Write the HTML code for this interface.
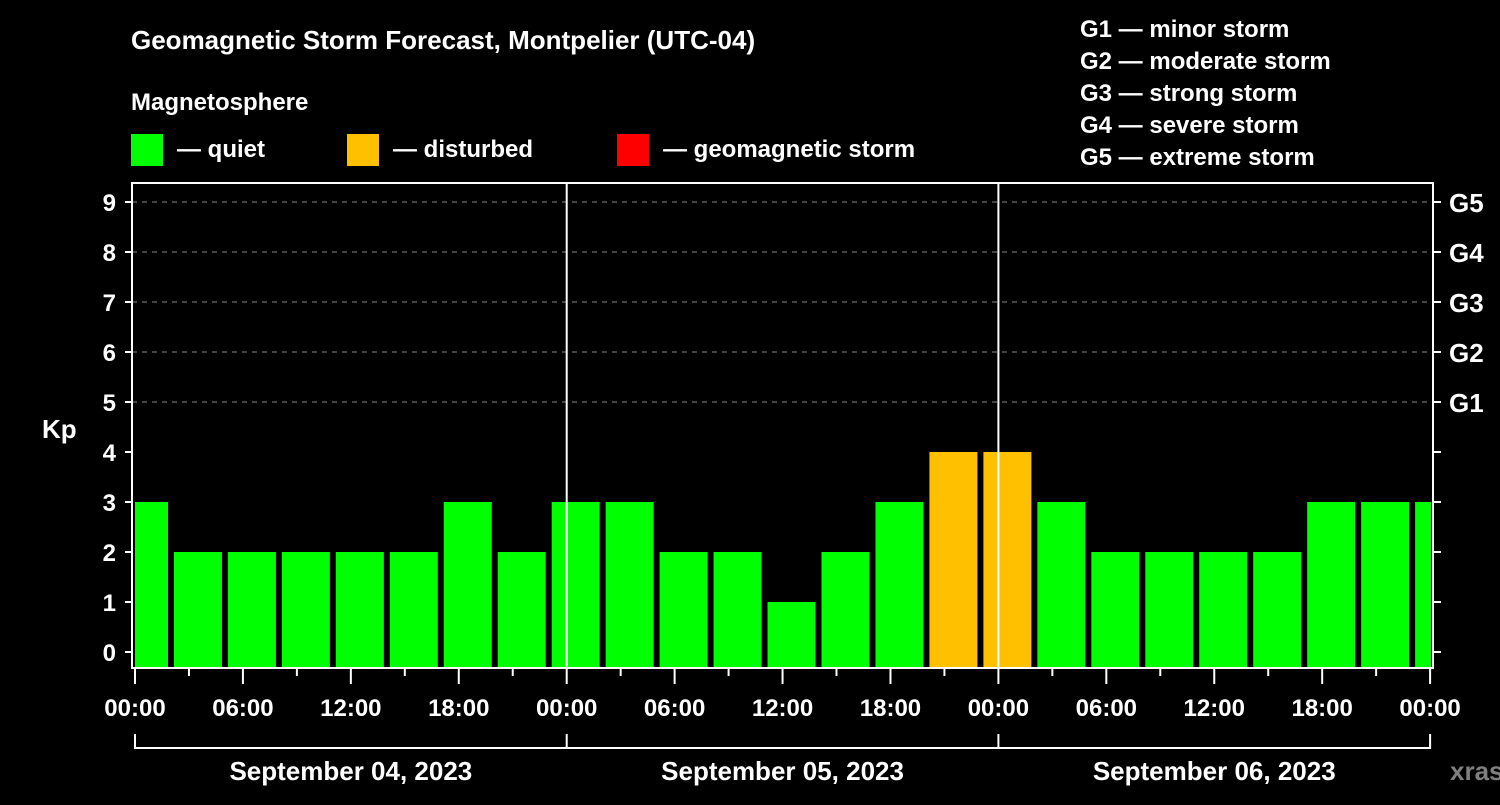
<!DOCTYPE html>
<html><head><meta charset="utf-8"><style>
body{margin:0;background:#000;}
svg text{font-family:"Liberation Sans",Arial,sans-serif;font-weight:bold;fill:#fff;}
</style></head><body>
<svg width="1500" height="800" viewBox="0 0 1500 800">
<rect x="0" y="0" width="1500" height="800" fill="#000"/>
<text x="131" y="49" font-size="26">Geomagnetic Storm Forecast, Montpelier (UTC-04)</text>
<text x="131" y="110" font-size="24">Magnetosphere</text>
<g>
<rect x="131" y="134" width="32" height="32" fill="#00ff00"/><text x="177" y="157" font-size="24">— quiet</text>
<rect x="347" y="134" width="32" height="32" fill="#ffc000"/><text x="393" y="157" font-size="24">— disturbed</text>
<rect x="617" y="134" width="32" height="32" fill="#ff0000"/><text x="663" y="157" font-size="24">— geomagnetic storm</text>
</g>
<g font-size="24">
<text x="1080" y="37">G1 — minor storm</text>
<text x="1080" y="69">G2 — moderate storm</text>
<text x="1080" y="101">G3 — strong storm</text>
<text x="1080" y="133">G4 — severe storm</text>
<text x="1080" y="165">G5 — extreme storm</text>
</g>
<g id="plot"></g>
<text x="42" y="438" font-size="26">Kp</text>
<text x="1450" y="780" font-size="26" style="fill:#808080">xras.ru</text>
</svg>
<script>
const kpValues=[3,2,2,2,2,2,3,2,3,3,2,2,1,2,3,4,4,3,2,2,2,2,3,3,3];
const yTicks=[0,1,2,3,4,5,6,7,8,9];
const gLabels=["G1","G2","G3","G4","G5"];
const xTickLabels=["00:00","06:00","12:00","18:00","00:00","06:00","12:00","18:00","00:00","06:00","12:00","18:00","00:00"];
const dayLabels=["September 04, 2023","September 05, 2023","September 06, 2023"];
const NS="http://www.w3.org/2000/svg";
const g=document.getElementById('plot');
const x0=135, pxH=431.7/24, L=132, R=1433, T=183, B=668;
const X=h=>x0+h*pxH;
const Y=v=>652-50*v;
function el(t,a,p){const e=document.createElementNS(NS,t);for(const k in a)e.setAttribute(k,a[k]);(p||g).appendChild(e);return e;}
// gridlines
for(let v=5;v<=9;v++){const e=el('line',{x1:L,x2:R,y1:Y(v),y2:Y(v),stroke:'#888','stroke-dasharray':'5,5','stroke-width':1});

}
// clip
const defs=el('defs',{});const cp=el('clipPath',{id:'cp'},defs);el('rect',{x:L+3,y:T,width:R-L-5,height:B-T},cp);
const bars=el('g',{'clip-path':'url(#cp)'});
kpValues.forEach((v,i)=>{const c=X(0.5+3*i);
const r=el('rect',{x:c-24,y:Y(v),width:48,height:B-1-Y(v),fill:v>=5?'#ff0000':(v>=4?'#ffc000':'#00ff00')},bars);

});
// day dividers
for(let d=1;d<3;d++){const e=el('line',{x1:X(24*d),x2:X(24*d),y1:T,y2:B,stroke:'#fff','stroke-width':2});

}
// frame
const f=el('rect',{x:L,y:T,width:R-L,height:B-T,fill:'none',stroke:'#fff','stroke-width':2});


// y ticks
yTicks.forEach(v=>{el('line',{x1:125,x2:L,y1:Y(v),y2:Y(v),stroke:'#fff','stroke-width':2});
el('line',{x1:R,x2:1441,y1:Y(v),y2:Y(v),stroke:'#fff','stroke-width':2});
const t=el('text',{x:116,y:Y(v)+9,'font-size':24,'text-anchor':'end'});t.textContent=v;

});
gLabels.forEach((s,i)=>{const t=el('text',{x:1449,y:Y(5+i)+10,'font-size':26});t.textContent=s;

});
// x ticks
for(let h=0;h<=72;h+=3){el('line',{x1:X(h),x2:X(h),y1:B,y2:h%6==0?684:676,stroke:'#fff','stroke-width':2});}
xTickLabels.forEach((s,i)=>{const t=el('text',{x:X(6*i),y:716,'font-size':24,'text-anchor':'middle'});t.textContent=s;

});
// day bracket
el('path',{d:`M${X(0)} 734V748H${X(72)}V734`,stroke:'#fff','stroke-width':2,fill:'none'});
for(let d=1;d<3;d++)el('line',{x1:X(24*d),x2:X(24*d),y1:734,y2:748,stroke:'#fff','stroke-width':2});
dayLabels.forEach((s,i)=>{const t=el('text',{x:X(24*i+12),y:780,'font-size':26,'text-anchor':'middle'});t.textContent=s;

});
</script>
</body></html>
